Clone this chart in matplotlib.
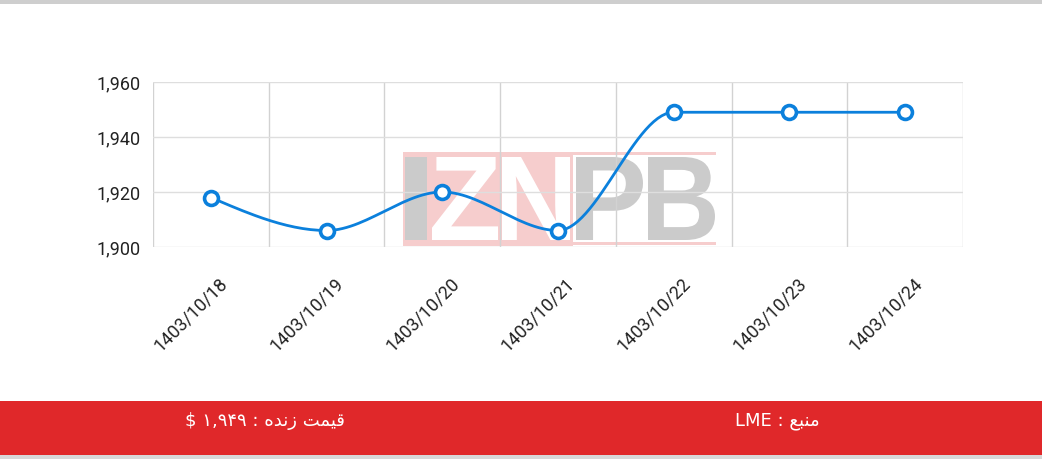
import numpy as np
import matplotlib.pyplot as plt
from matplotlib.patches import Rectangle, PathPatch
from matplotlib.textpath import TextPath
from matplotlib.font_manager import FontProperties
from matplotlib.transforms import Affine2D, ScaledTranslation

dates = ['1403/10/18', '1403/10/19', '1403/10/20', '1403/10/21',
         '1403/10/22', '1403/10/23', '1403/10/24']
prices = [1918, 1906, 1920, 1906, 1949, 1949, 1949]
y_ticks = [1900, 1920, 1940, 1960]

# footer texts, pre-shaped arabic glyphs in visual (left to right) order
live_price = '$ \u06f1,\u06f9\u06f4\u06f9 : \ufee9\ufeaa\ufee7\ufeaf \ufe96\ufee4\ufef4\ufed7'
source = 'LME : \ufeca\ufe92\ufee8\ufee3'

LINE = '#0b80dc'
W, H = 1042, 459


def monotone_x(x, y, n=30):
    # same idea as d3.curveMonotoneX
    x = np.asarray(x, float)
    y = np.asarray(y, float)
    h = np.diff(x)
    s = np.diff(y) / h
    t = np.zeros(len(x))
    for i in range(1, len(x) - 1):
        p = (s[i - 1] * h[i] + s[i] * h[i - 1]) / (h[i - 1] + h[i])
        t[i] = (np.sign(s[i - 1]) + np.sign(s[i])) * min(abs(s[i - 1]), abs(s[i]), 0.5 * abs(p))
    t[0] = (3 * s[0] - t[1]) / 2
    t[-1] = (3 * s[-1] - t[-2]) / 2
    xs, ys = [], []
    for i in range(len(x) - 1):
        u = np.linspace(0, 1, n)
        h00 = 2 * u**3 - 3 * u**2 + 1
        h10 = u**3 - 2 * u**2 + u
        h01 = -2 * u**3 + 3 * u**2
        h11 = u**3 - u**2
        xs.append(x[i] + u * h[i])
        ys.append(h00 * y[i] + h10 * h[i] * t[i] + h01 * y[i + 1] + h11 * h[i] * t[i + 1])
    return np.concatenate(xs), np.concatenate(ys)


def letter(ax, ch, x0, x1, y0, y1, color, z=1):
    fp = FontProperties(family='Liberation Sans', weight='bold')
    tp = TextPath((0, 0), ch, size=100, prop=fp)
    ext = tp.get_extents()
    tr = (Affine2D().translate(-ext.x0, -ext.y0)
          .scale((x1 - x0) / ext.width, -(y1 - y0) / ext.height)
          .translate(x0, y1))
    ax.add_patch(PathPatch(tr.transform_path(tp), facecolor=color, edgecolor='none', zorder=z))


fig = plt.figure(figsize=(W / 100, H / 100), dpi=100)

bg = fig.add_axes([0, 0, 1, 1], zorder=0)
bg.set_xlim(0, W)
bg.set_ylim(H, 0)
bg.axis('off')

# top and bottom grey strips
bg.add_patch(Rectangle((0, 0), W, 4, color='#cecece', lw=0))
bg.add_patch(Rectangle((0, 455), W, 4, color='#d8d8d8', lw=0))
# red footer bar
bg.add_patch(Rectangle((0, 401), W, 54, color='#e0282a', lw=0))
bg.text(265, 421, live_price, color='white', fontsize=13, ha='center', va='center',
        family=['DejaVu Sans'])
bg.text(777, 421, source, color='white', fontsize=13, ha='center', va='center',
        family=['DejaVu Sans'])

# watermark
pink = '#f6cdcd'
grey = '#cbcbcb'
bg.add_patch(Rectangle((403, 152), 170, 94, color=pink, lw=0))
bg.add_patch(Rectangle((573, 152), 143, 3, color=pink, lw=0))
bg.add_patch(Rectangle((573, 242), 143, 3, color=pink, lw=0))
bg.add_patch(Rectangle((405, 157), 22, 83, color=grey, lw=0))
letter(bg, 'Z', 432, 498, 157, 240, 'white')
letter(bg, 'N', 502, 570, 157, 240, 'white')
letter(bg, 'P', 576, 643, 157, 240, grey)
letter(bg, 'B', 648, 715, 157, 240, grey)

ax = fig.add_axes([153 / W, 1 - 247 / H, 810 / W, 165 / H], zorder=1)
ax.set_facecolor('none')

xi = np.arange(len(dates))
cx, cy = monotone_x(xi, prices)
ax.plot(cx, cy, color=LINE, lw=2, zorder=3, solid_capstyle='round')
ax.plot(xi, prices, 'o', ms=10, mfc='white', mec=LINE, mew=2.6, zorder=4, clip_on=False)

ax.set_xlim(-0.5, len(dates) - 0.5)
ax.set_ylim(1900, 1960)
ax.set_yticks(y_ticks)
ax.set_yticklabels([f'{v:,}' for v in y_ticks])
ax.set_xticks(np.arange(len(dates) + 1) - 0.5, minor=True)
ax.set_xticks(xi)
ax.set_xticklabels(dates, rotation=45, ha='right', va='center', rotation_mode='anchor')
ax.grid(True, which='minor', axis='x', color='#d2d2d2', lw=1)
ax.grid(True, which='major', axis='y', color='#dedede', lw=1)
ax.tick_params(axis='both', which='both', length=0, labelsize=13, labelcolor='#222222')
ax.tick_params(axis='y', pad=9)
ax.tick_params(axis='x', pad=24)
for sp in ax.spines.values():
    sp.set_visible(False)
for lab in ax.get_yticklabels() + ax.get_xticklabels():
    lab.set_family('Roboto')
for lab in ax.get_xticklabels():
    lab.set_transform(lab.get_transform() + ScaledTranslation(0.14, 0, fig.dpi_scale_trans))

fig.savefig('out.png', dpi=100)
